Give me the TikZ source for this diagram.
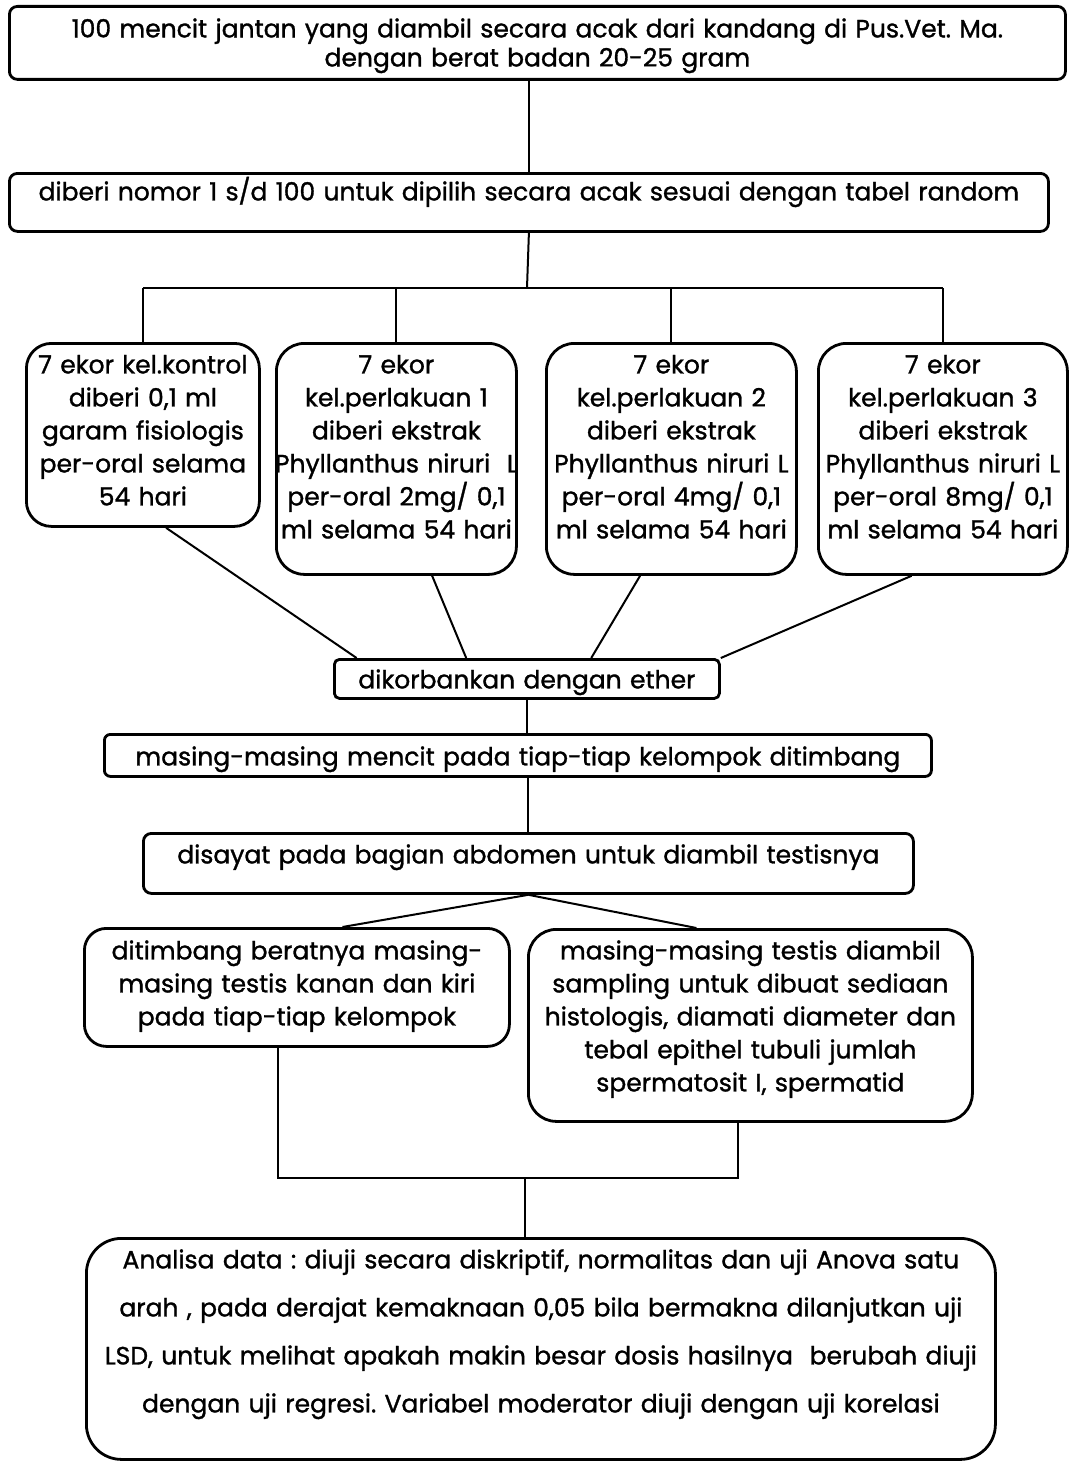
\documentclass[tikz,border=0pt]{standalone}
\usepackage{fontspec}
\setmainfont{Poppins}[FakeBold=1.2]
\usetikzlibrary{positioning, calc}
\newcommand{\flowfont}{\fontsize{25}{33}\selectfont\frenchspacing}
\tikzset{
  flow/.style={
    draw, line width=2.8pt, anchor=north west,
    inner sep=0pt, align=center, font=\flowfont
  },
  group/.style={flow, inner xsep=-6pt},
  link/.style={line width=2pt},
}

\begin{document}
\begin{tikzpicture}[x=1pt, y=-1pt]
  \useasboundingbox (0,0) rectangle (1068,1461);

  % Steps
  \node[flow, rounded corners=8pt, text width=1056pt, text height=31pt, text depth=42pt,
        font=\fontsize{25}{29}\selectfont\frenchspacing] (mice) at (8,5)
    {100 mencit jantan yang diambil secara acak dari kandang di Pus.Vet. Ma.\\dengan berat badan 20-25 gram};
  \node[flow, rounded corners=8pt, text width=1039pt, text height=27pt, text depth=31pt] (number) at (8,172)
    {diberi nomor 1 s/d 100 untuk dipilih secara acak sesuai dengan tabel random};

  % Groups
  \node[group, rounded corners=25pt, text width=245pt, text height=30pt, text depth=153pt] (ctrl) at (25,342)
    {7 ekor kel.kontrol\\diberi 0,1 ml\\garam fisiologis\\per-oral selama\\54 hari};
  \node[group, rounded corners=28pt, text width=252pt, text height=30pt, text depth=201pt] (dose1) at (275,342)
    {7 ekor\\kel.perlakuan 1\\diberi ekstrak\\Phyllanthus niruri~ L\\per-oral 2mg/ 0,1\\ml selama 54 hari};
  \node[group, rounded corners=28pt, text width=262pt, text height=30pt, text depth=201pt] (dose2) at (545,342)
    {7 ekor\\kel.perlakuan 2\\diberi ekstrak\\Phyllanthus niruri L\\per-oral 4mg/ 0,1\\ml selama 54 hari};
  \node[group, rounded corners=28pt, text width=261pt, text height=30pt, text depth=201pt] (dose3) at (817,342)
    {7 ekor\\kel.perlakuan 3\\diberi ekstrak\\Phyllanthus niruri L\\per-oral 8mg/ 0,1\\ml selama 54 hari};

  \node[flow, rounded corners=5pt, text width=385pt, text height=29pt, text depth=10pt] (ether) at (333,658)
    {dikorbankan dengan ether};
  \node[flow, rounded corners=6pt, text width=827pt, text height=31pt, text depth=11pt] (weigh) at (103,733)
    {masing-masing mencit pada tiap-tiap kelompok ditimbang};
  \node[flow, rounded corners=8pt, text width=770pt, text height=30pt, text depth=30pt] (cut) at (142,832)
    {disayat pada bagian abdomen untuk diambil testisnya};

  \node[flow, rounded corners=22pt, text width=425pt, text height=31pt, text depth=87pt] (testis) at (83,927)
    {ditimbang beratnya masing-\\masing testis kanan dan kiri\\pada tiap-tiap kelompok};
  \node[flow, rounded corners=28pt, text width=444pt, text height=30pt, text depth=162pt] (histo) at (527,928)
    {masing-masing testis diambil\\sampling untuk dibuat sediaan\\histologis, diamati diameter dan\\tebal epithel tubuli jumlah\\spermatosit I, spermatid};

  \node[flow, rounded corners=35pt, text width=909pt, text height=30pt, text depth=191pt,
        font=\fontsize{25}{48}\selectfont\frenchspacing] (stats) at (85,1237)
    {Analisa data : diuji secara diskriptif, normalitas dan uji Anova satu\\arah , pada derajat kemaknaan 0,05 bila bermakna dilanjutkan uji\\LSD, untuk melihat apakah makin besar dosis hasilnya~ berubah diuji\\dengan uji regresi. Variabel moderator diuji dengan uji korelasi};

  % Connectors
  \coordinate (split) at (527,288);
  \coordinate (merge) at (525,1178);
  \draw[link] (number.north) -- (number.north |- mice.south);
  \draw[link] (number.south) -- (split);
  \draw[link] (ctrl.north |- split) -- (dose3.north |- split);
  \foreach \g in {ctrl, dose1, dose2, dose3}
    \draw[link] (\g.north) -- (\g.north |- split);

  \draw[link] (ctrl.-76) -- (ether.173.5);
  \draw[link] (dose1.-73) -- (ether.161);
  \draw[link] (dose2.-105) -- (ether.18);
  \draw[link] (dose3.-105) -- (ether.north east);

  \draw[link] (ether.south) -- (ether.south |- weigh.north);
  \draw[link] (cut.north |- weigh.south) -- (cut.north);
  \draw[link] (cut.south) -- (testis.53);
  \draw[link] (cut.south) -- (histo.119);

  \draw[link] (testis.-107) |- (merge) -| (histo.-97);
  \draw[link] (merge) -- (merge |- stats.north);
\end{tikzpicture}
\end{document}
